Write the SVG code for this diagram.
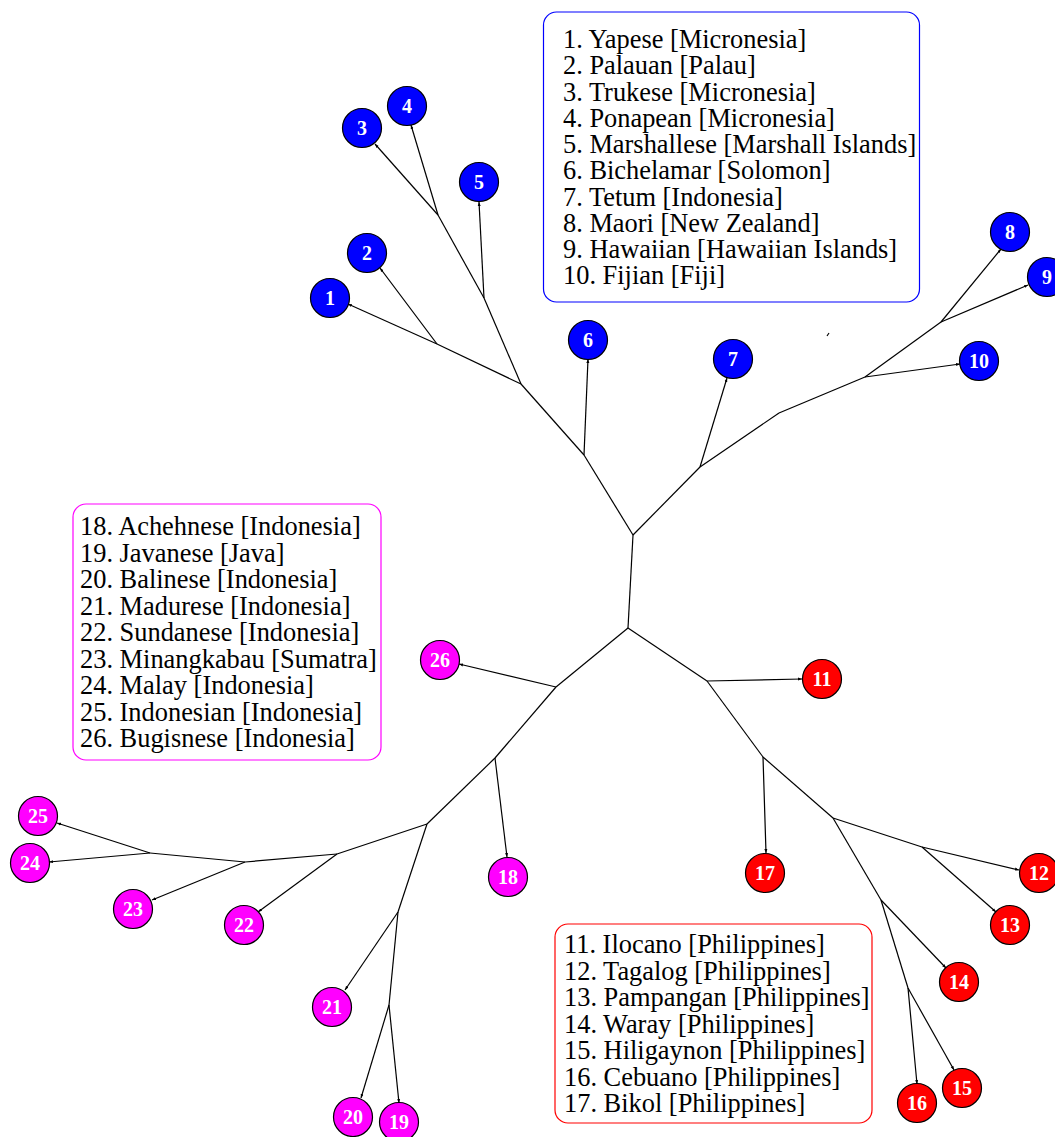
<svg xmlns="http://www.w3.org/2000/svg" width="1055" height="1137" viewBox="0 0 1055 1137">
<style>
.e{stroke:#000;stroke-width:1.2;fill:none}
.n circle{stroke:#000;stroke-width:1.2}
.b circle{fill:#0000ff}
.m circle{fill:#ff00ff}
.r circle{fill:#ff0000}
.n text{font-family:"Liberation Serif",serif;font-weight:bold;font-size:20px;fill:#fff;text-anchor:middle}
.lg text{font-family:"Liberation Serif",serif;font-size:26.4px;fill:#000}
</style>
<defs>
<marker id="a" markerWidth="5" markerHeight="5" refX="4" refY="2.5" orient="auto" markerUnits="userSpaceOnUse"><path d="M0,1 L4,2.5 L0,4 z" fill="#000"/></marker>
</defs>
<g id="connectors">
<path class="e" d="M633,535 L628,628"/>
<path class="e" d="M633,535 L584,455"/>
<path class="e" d="M633,535 L700,467"/>
<path class="e" d="M584,455 L521,384"/>
<path class="e" d="M584,455 L588,359" marker-end="url(#a)"/>
<path class="e" d="M521,384 L437,344"/>
<path class="e" d="M521,384 L484,298"/>
<path class="e" d="M437,344 L348,304" marker-end="url(#a)"/>
<path class="e" d="M437,344 L380,268" marker-end="url(#a)"/>
<path class="e" d="M484,298 L438,215"/>
<path class="e" d="M484,298 L479,202" marker-end="url(#a)"/>
<path class="e" d="M438,215 L375,144" marker-end="url(#a)"/>
<path class="e" d="M438,215 L411,125" marker-end="url(#a)"/>
<path class="e" d="M700,467 L727,378" marker-end="url(#a)"/>
<path class="e" d="M700,467 L779,413"/>
<path class="e" d="M779,413 L865,377"/>
<path class="e" d="M865,377 L941,322"/>
<path class="e" d="M865,377 L960,364" marker-end="url(#a)"/>
<path class="e" d="M941,322 L1001,249" marker-end="url(#a)"/>
<path class="e" d="M941,322 L1028,285" marker-end="url(#a)"/>
<path class="e" d="M628,628 L556,687"/>
<path class="e" d="M628,628 L707,681"/>
<path class="e" d="M556,687 L459,664" marker-end="url(#a)"/>
<path class="e" d="M556,687 L495,758"/>
<path class="e" d="M495,758 L507,857" marker-end="url(#a)"/>
<path class="e" d="M495,758 L427,824"/>
<path class="e" d="M427,824 L337,854"/>
<path class="e" d="M427,824 L398,912"/>
<path class="e" d="M337,854 L245,862"/>
<path class="e" d="M337,854 L258,912" marker-end="url(#a)"/>
<path class="e" d="M245,862 L150,853"/>
<path class="e" d="M245,862 L152,900" marker-end="url(#a)"/>
<path class="e" d="M150,853 L57,823" marker-end="url(#a)"/>
<path class="e" d="M150,853 L49,862" marker-end="url(#a)"/>
<path class="e" d="M398,912 L345,990" marker-end="url(#a)"/>
<path class="e" d="M398,912 L389,1005"/>
<path class="e" d="M389,1005 L361,1098" marker-end="url(#a)"/>
<path class="e" d="M389,1005 L399,1103" marker-end="url(#a)"/>
<path class="e" d="M707,681 L802,679" marker-end="url(#a)"/>
<path class="e" d="M707,681 L763,757"/>
<path class="e" d="M763,757 L766,853" marker-end="url(#a)"/>
<path class="e" d="M763,757 L833,818"/>
<path class="e" d="M833,818 L922,847"/>
<path class="e" d="M833,818 L881,900"/>
<path class="e" d="M922,847 L1019,870" marker-end="url(#a)"/>
<path class="e" d="M922,847 L996,912" marker-end="url(#a)"/>
<path class="e" d="M881,900 L946,968" marker-end="url(#a)"/>
<path class="e" d="M881,900 L908,988"/>
<path class="e" d="M908,988 L917,1084" marker-end="url(#a)"/>
<path class="e" d="M908,988 L954,1070" marker-end="url(#a)"/>
<path d="M827,336 L829,333" stroke="#000" stroke-width="1.2"/>
</g>
<g id="node1" class="n b"><circle cx="330" cy="298" r="19.5"/><text x="330" y="305">1</text></g>
<g id="node2" class="n b"><circle cx="367" cy="253" r="19.5"/><text x="367" y="260">2</text></g>
<g id="node3" class="n b"><circle cx="362" cy="128" r="19.5"/><text x="362" y="135">3</text></g>
<g id="node4" class="n b"><circle cx="407" cy="106" r="19.5"/><text x="407" y="113">4</text></g>
<g id="node5" class="n b"><circle cx="479" cy="182" r="19.5"/><text x="479" y="189">5</text></g>
<g id="node6" class="n b"><circle cx="588" cy="340" r="19.5"/><text x="588" y="347">6</text></g>
<g id="node7" class="n b"><circle cx="733" cy="359" r="19.5"/><text x="733" y="366">7</text></g>
<g id="node8" class="n b"><circle cx="1010" cy="232" r="19.5"/><text x="1010" y="239">8</text></g>
<g id="node9" class="n b"><circle cx="1047" cy="277" r="19.5"/><text x="1047" y="284">9</text></g>
<g id="node10" class="n b"><circle cx="979" cy="361" r="19.5"/><text x="979" y="368">10</text></g>
<g id="node11" class="n r"><circle cx="822" cy="679" r="19.5"/><text x="822" y="686">11</text></g>
<g id="node12" class="n r"><circle cx="1039" cy="873" r="19.5"/><text x="1039" y="880">12</text></g>
<g id="node13" class="n r"><circle cx="1010" cy="925" r="19.5"/><text x="1010" y="932">13</text></g>
<g id="node14" class="n r"><circle cx="959" cy="982" r="19.5"/><text x="959" y="989">14</text></g>
<g id="node15" class="n r"><circle cx="962" cy="1088" r="19.5"/><text x="962" y="1095">15</text></g>
<g id="node16" class="n r"><circle cx="917" cy="1103" r="19.5"/><text x="917" y="1110">16</text></g>
<g id="node17" class="n r"><circle cx="765" cy="873" r="19.5"/><text x="765" y="880">17</text></g>
<g id="node18" class="n m"><circle cx="508" cy="877" r="19.5"/><text x="508" y="884">18</text></g>
<g id="node19" class="n m"><circle cx="399" cy="1122" r="19.5"/><text x="399" y="1129">19</text></g>
<g id="node20" class="n m"><circle cx="353" cy="1117" r="19.5"/><text x="353" y="1124">20</text></g>
<g id="node21" class="n m"><circle cx="332" cy="1007" r="19.5"/><text x="332" y="1014">21</text></g>
<g id="node22" class="n m"><circle cx="244" cy="925" r="19.5"/><text x="244" y="932">22</text></g>
<g id="node23" class="n m"><circle cx="133" cy="909" r="19.5"/><text x="133" y="916">23</text></g>
<g id="node24" class="n m"><circle cx="30" cy="863" r="19.5"/><text x="30" y="870">24</text></g>
<g id="node25" class="n m"><circle cx="38" cy="816" r="19.5"/><text x="38" y="823">25</text></g>
<g id="node26" class="n m"><circle cx="440" cy="660" r="19.5"/><text x="440" y="667">26</text></g>
<g id="legend-blue" class="lg">
<rect x="543.5" y="12" width="376" height="290" rx="13" fill="#fff" stroke="#0000ff" stroke-width="1.2"/>
<text x="563" y="48">1. Yapese [Micronesia]</text>
<text x="563" y="74.25">2. Palauan [Palau]</text>
<text x="563" y="100.5">3. Trukese [Micronesia]</text>
<text x="563" y="126.75">4. Ponapean [Micronesia]</text>
<text x="563" y="153">5. Marshallese [Marshall Islands]</text>
<text x="563" y="179.25">6. Bichelamar [Solomon]</text>
<text x="563" y="205.5">7. Tetum [Indonesia]</text>
<text x="563" y="231.75">8. Maori [New Zealand]</text>
<text x="563" y="258">9. Hawaiian [Hawaiian Islands]</text>
<text x="563" y="284.25">10. Fijian [Fiji]</text>
</g>
<g id="legend-magenta" class="lg">
<rect x="73" y="504" width="308" height="256" rx="13" fill="#fff" stroke="#ff00ff" stroke-width="1.2"/>
<text x="80" y="535">18. Achehnese [Indonesia]</text>
<text x="80" y="561.5">19. Javanese [Java]</text>
<text x="80" y="588">20. Balinese [Indonesia]</text>
<text x="80" y="614.5">21. Madurese [Indonesia]</text>
<text x="80" y="641">22. Sundanese [Indonesia]</text>
<text x="80" y="667.5">23. Minangkabau [Sumatra]</text>
<text x="80" y="694">24. Malay [Indonesia]</text>
<text x="80" y="720.5">25. Indonesian [Indonesia]</text>
<text x="80" y="747">26. Bugisnese [Indonesia]</text>
</g>
<g id="legend-red" class="lg">
<rect x="555" y="924" width="317" height="199" rx="13" fill="#fff" stroke="#ff0000" stroke-width="1.2"/>
<text x="564" y="953">11. Ilocano [Philippines]</text>
<text x="564" y="979.5">12. Tagalog [Philippines]</text>
<text x="564" y="1006">13. Pampangan [Philippines]</text>
<text x="564" y="1032.5">14. Waray [Philippines]</text>
<text x="564" y="1059">15. Hiligaynon [Philippines]</text>
<text x="564" y="1085.5">16. Cebuano [Philippines]</text>
<text x="564" y="1112">17. Bikol [Philippines]</text>
</g>
</svg>
